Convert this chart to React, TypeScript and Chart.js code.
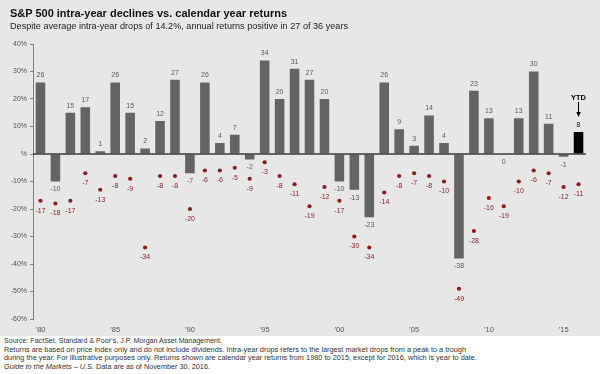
import React, { useEffect, useLayoutEffect, useRef } from 'react';
import { Chart, registerables } from 'chart.js';

Chart.register(...registerables);

const FONT = '"Liberation Sans", Arial, sans-serif';

const TITLE = 'S&P 500 intra-year declines vs. calendar year returns';
const SUBTITLE = 'Despite average intra-year drops of 14.2%, annual returns positive in 27 of 36 years';
const YTD_LABEL = 'YTD';

const years = [
  1980, 1981, 1982, 1983, 1984, 1985, 1986, 1987, 1988, 1989,
  1990, 1991, 1992, 1993, 1994, 1995, 1996, 1997, 1998, 1999,
  2000, 2001, 2002, 2003, 2004, 2005, 2006, 2007, 2008, 2009,
  2010, 2011, 2012, 2013, 2014, 2015, 2016,
];

const annualReturns = [
  26, -10, 15, 17, 1, 26, 15, 2, 12, 27,
  -7, 26, 4, 7, -2, 34, 20, 31, 27, 20,
  -10, -13, -23, 26, 9, 3, 14, 4, -38, 23,
  13, 0, 13, 30, 11, -1, 8,
];

const intraYearDeclines = [
  -17, -18, -17, -7, -13, -8, -9, -34, -8, -8,
  -20, -6, -6, -5, -9, -3, -8, -11, -19, -12,
  -17, -30, -34, -14, -8, -7, -8, -10, -49, -28,
  -16, -19, -10, -6, -7, -12, -11,
];

const yMin = -60;
const yMax = 40;
const yStep = 10;

const footnoteLines = [
  'Source: FactSet, Standard & Poor\u2019s, J.P. Morgan Asset Management.',
  'Returns are based on price index only and do not include dividends. Intra-year drops refers to the largest market drops from a peak to a trough',
  'during the year. For illustrative purposes only. Returns shown are calendar year returns from 1980 to 2015, except for 2016, which is year to date.',
];
const guideItalic = 'Guide to the Markets \u2013 U.S.';
const guideRest = ' Data are as of November 30, 2016.';

function Fit({ width, children, style }: { width: number; children: React.ReactNode; style?: React.CSSProperties }) {
  const ref = useRef<HTMLSpanElement>(null);
  useLayoutEffect(() => {
    const el = ref.current;
    if (!el) return;
    el.style.transform = 'none';
    const w = el.getBoundingClientRect().width;
    if (w > 0) el.style.transform = `scaleX(${width / w})`;
  }, [width]);
  return (
    <span
      ref={ref}
      style={{ display: 'inline-block', whiteSpace: 'nowrap', transformOrigin: '0 0', ...style }}
    >
      {children}
    </span>
  );
}

const labelPlugin = {
  id: 'valueLabels',
  afterDatasetsDraw(chart: any) {
    const ctx = chart.ctx as CanvasRenderingContext2D;
    const { left, right } = chart.chartArea;
    const y0 = chart.scales.y.getPixelForValue(0);
    ctx.save();
    ctx.strokeStyle = '#3a3a3a';
    ctx.lineWidth = 1.3;
    ctx.beginPath();
    ctx.moveTo(left, y0);
    ctx.lineTo(right, y0);
    ctx.stroke();

    const dotMeta = chart.getDatasetMeta(0);
    const barMeta = chart.getDatasetMeta(1);
    ctx.textAlign = 'center';
    ctx.textBaseline = 'middle';
    ctx.font = `7px ${FONT}`;
    const last = annualReturns.length - 1;
    annualReturns.forEach((v, i) => {
      const el = barMeta.data[i];
      ctx.fillStyle = i === last ? '#111' : '#5a5a5a';
      if (v > 0) ctx.fillText(String(v), el.x, el.y - 7);
      else ctx.fillText(String(v), el.x, Math.max(el.y, el.base) + 8);
    });
    ctx.fillStyle = '#8b1c1c';
    intraYearDeclines.forEach((v, i) => {
      const el = dotMeta.data[i];
      ctx.fillText(String(v), el.x, el.y + 10);
    });

    const lastEl = barMeta.data[last];
    const top = lastEl.y;
    ctx.fillStyle = '#000';
    ctx.font = `bold 7.5px ${FONT}`;
    ctx.fillText(YTD_LABEL, lastEl.x, top - 34);
    ctx.strokeStyle = '#000';
    ctx.lineWidth = 1;
    ctx.beginPath();
    ctx.moveTo(lastEl.x, top - 30);
    ctx.lineTo(lastEl.x, top - 19);
    ctx.stroke();
    ctx.beginPath();
    ctx.moveTo(lastEl.x - 2.3, top - 20);
    ctx.lineTo(lastEl.x + 2.3, top - 20);
    ctx.lineTo(lastEl.x, top - 15);
    ctx.closePath();
    ctx.fill();
    ctx.restore();
  },
};

function ChartCanvas() {
  const ref = useRef<HTMLCanvasElement>(null);
  useEffect(() => {
    if (!ref.current) return;
    const barColors = annualReturns.map((_, i) => (i === annualReturns.length - 1 ? '#000000' : '#646464'));
    const chart = new Chart(ref.current, {
      type: 'bar',
      data: {
        labels: years.map(String),
        datasets: [
          {
            type: 'line',
            label: 'Intra-year decline',
            data: intraYearDeclines,
            showLine: false,
            pointRadius: 2.1,
            pointBorderWidth: 0,
            pointBackgroundColor: '#8b1c1c',
            borderColor: '#8b1c1c',
            order: 0,
          } as any,
          {
            type: 'bar',
            label: 'Calendar year return',
            data: annualReturns,
            backgroundColor: barColors,
            barPercentage: 0.64,
            categoryPercentage: 1,
            order: 1,
          },
        ],
      },
      options: {
        responsive: false,
        animation: false,
        layout: { padding: { left: 0, right: 14, top: 44, bottom: 0 } },
        plugins: { legend: { display: false }, tooltip: { enabled: false }, title: { display: false } },
        scales: {
          x: {
            grid: { display: false, drawTicks: false },
            border: { display: false },
            ticks: {
              autoSkip: false,
              maxRotation: 0,
              padding: 6,
              color: '#555',
              font: { family: FONT, size: 7.5 },
              callback: (_v: any, i: number) => {
                const y = years[i];
                return y % 5 === 0 ? '\u2019' + String(y).slice(2) : '';
              },
            },
            afterFit: (s: any) => {
              s.height = 17;
            },
          },
          y: {
            min: yMin,
            max: yMax,
            grid: { drawOnChartArea: false, drawTicks: true, tickLength: 3, color: '#808080' },
            border: { display: true, color: '#808080' },
            ticks: {
              stepSize: yStep,
              padding: 3,
              color: '#555',
              font: { family: FONT, size: 7 },
              callback: (v: any) => (Number(v) === 0 ? '%' : `${v}%`),
            },
            afterFit: (s: any) => {
              s.width = 33;
            },
          },
        },
      },
      plugins: [labelPlugin],
    });
    return () => chart.destroy();
  }, []);
  return <canvas ref={ref} width={600} height={336} style={{ position: 'absolute', left: 0, top: 0 }} />;
}

export default function App() {
  return (
    <div
      style={{
        position: 'absolute',
        left: 0,
        top: 0,
        width: 600,
        height: 374,
        background: '#ffffff',
        overflow: 'hidden',
        fontFamily: FONT,
      }}
    >
      <div style={{ position: 'absolute', left: 0, top: 0, width: 600, height: 336, background: '#e7e7e7' }} />
      <ChartCanvas />
      <div style={{ position: 'absolute', left: 10, top: 8, fontSize: 11.5, lineHeight: '11px', fontWeight: 'bold', color: '#111' }}>
        <Fit width={277}>{TITLE}</Fit>
      </div>
      <div style={{ position: 'absolute', left: 10, top: 21, fontSize: 9.5, lineHeight: '9px', color: '#222' }}>
        <Fit width={338}>{SUBTITLE}</Fit>
      </div>
      <div style={{ position: 'absolute', left: 4, top: 337, fontSize: 7.5, lineHeight: '8.6px', color: '#333' }}>
        <div><Fit width={218}>{footnoteLines[0]}</Fit></div>
        <div><Fit width={462}>{footnoteLines[1]}</Fit></div>
        <div><Fit width={473}>{footnoteLines[2]}</Fit></div>
        <div>
          <Fit width={206}>
            <i>{guideItalic}</i>
            {guideRest}
          </Fit>
        </div>
      </div>
    </div>
  );
}
